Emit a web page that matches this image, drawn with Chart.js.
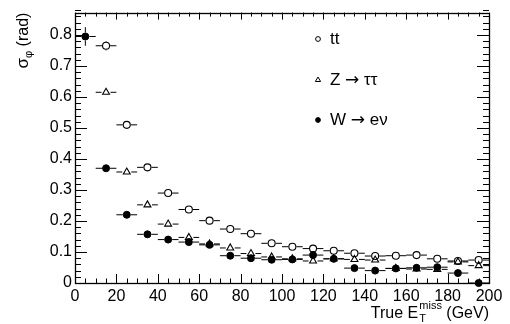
<!DOCTYPE html>
<html>
<head>
<meta charset="utf-8">
<script src="https://cdn.jsdelivr.net/npm/chart.js@4.4.1/dist/chart.umd.min.js"></script>
<style>
  html, body { margin: 0; padding: 0; background: #fff; }
  #wrap { width: 510px; height: 324px; }
</style>
</head>
<body>
<div id="wrap"><canvas id="c" width="510" height="324"></canvas></div>
<script>
/* global Chart */

// --- data (bin centres, GeV) ---
const binCenters = [5, 15, 25, 35, 45, 55, 65, 75, 85, 95, 105, 115, 125, 135, 145, 155, 165, 175, 185, 195];
const binHalfWidth = 5;

const seriesNames = ['tt', 'Z \u2192 \u03c4\u03c4', 'W \u2192 e\u03bd'];

const ttValues = [null, 0.765, 0.510, 0.373, 0.290, 0.237, 0.201, 0.174, 0.159, 0.128, 0.117, 0.111, 0.104, 0.096, 0.087, 0.088, 0.090, 0.078, 0.071, 0.074];
const ttErrors = [null, 0.015, 0.006, 0.004, 0.004, 0.003, 0.003, 0.003, 0.003, 0.003, 0.003, 0.003, 0.003, 0.004, 0.004, 0.004, 0.005, 0.005, 0.005, 0.006];

const zValues = [null, 0.615, 0.358, 0.252, 0.190, 0.147, 0.126, 0.113, 0.095, 0.084, 0.078, 0.071, 0.078, 0.076, 0.074, 0.047, 0.045, 0.044, 0.068, 0.056];
const zErrors = [null, 0.008, 0.005, 0.004, 0.004, 0.004, 0.004, 0.004, 0.004, 0.005, 0.005, 0.006, 0.006, 0.007, 0.007, 0.008, 0.008, 0.008, 0.009, 0.009];

const wValues = [0.795, 0.370, 0.220, 0.157, 0.140, 0.132, 0.123, 0.088, 0.080, 0.075, 0.076, 0.090, 0.078, 0.048, 0.040, 0.047, 0.049, 0.051, 0.032, 0.0];
const wErrors = [0.030, 0.005, 0.004, 0.004, 0.004, 0.004, 0.005, 0.005, 0.005, 0.006, 0.006, 0.010, 0.007, 0.008, 0.008, 0.008, 0.010, 0.010, 0.012, 0.012];

const xTicks = [0, 20, 40, 60, 80, 100, 120, 140, 160, 180, 200];
const yTicks = [0, 0.1, 0.2, 0.3, 0.4, 0.5, 0.6, 0.7, 0.8];
const xMinorStep = 5;
const yMinorStep = 0.02;

const FONT = "'Liberation Sans', Arial, Helvetica, sans-serif";
const ARROW_FONT = "'DejaVu Sans', sans-serif";

function toPoints(values, errors) {
  const pts = [];
  binCenters.forEach((x, i) => {
    if (values[i] !== null) pts.push({ x, y: values[i], err: errors[i] });
  });
  return pts;
}

// text with the arrow drawn in a font that has a long arrow glyph
function fillMixed(ctx, text, x, y, size) {
  text.split(/(\u2192)/).forEach((part) => {
    if (!part) return;
    ctx.font = `${size}px ${part === '\u2192' ? ARROW_FONT : FONT}`;
    ctx.fillText(part, x, y);
    x += ctx.measureText(part).width;
  });
}

// ROOT-like frame, inward ticks, error bars, axis titles and legend
const rootStyle = {
  id: 'rootStyle',
  beforeDatasetsDraw(chart) {
    const { ctx, chartArea: a, scales: { x, y } } = chart;
    ctx.save();
    ctx.strokeStyle = '#000';
    ctx.lineWidth = 1;
    chart.data.datasets.forEach((ds) => {
      const r = ds.pointRadius + 0.5;
      ds.data.forEach((p) => {
        const px = x.getPixelForValue(p.x);
        const py = y.getPixelForValue(p.y);
        const xl = x.getPixelForValue(p.x - binHalfWidth);
        const xr = x.getPixelForValue(p.x + binHalfWidth);
        const yt = y.getPixelForValue(p.y + p.err);
        const yb = Math.min(a.bottom, y.getPixelForValue(p.y - p.err));
        ctx.beginPath();
        ctx.moveTo(xl, py); ctx.lineTo(px - r, py);
        ctx.moveTo(px + r, py); ctx.lineTo(xr, py);
        if (py - yt > r) { ctx.moveTo(px, yt); ctx.lineTo(px, py - r); }
        if (yb - py > r) { ctx.moveTo(px, py + r); ctx.lineTo(px, yb); }
        ctx.stroke();
      });
    });
    ctx.restore();
  },
  afterDraw(chart) {
    const { ctx, chartArea: a, scales: { x, y } } = chart;
    ctx.save();
    ctx.strokeStyle = '#000';
    ctx.lineWidth = 1.3;
    ctx.strokeRect(Math.round(a.left) + 0.5, Math.round(a.top) + 0.5,
                   Math.round(a.right - a.left), Math.round(a.bottom - a.top));

    // x ticks (bottom + top)
    ctx.lineWidth = 1;
    ctx.beginPath();
    for (let v = x.min; v <= x.max + 1e-9; v += xMinorStep) {
      const px = Math.round(x.getPixelForValue(v)) + 0.5;
      const major = xTicks.includes(v);
      ctx.moveTo(px, a.bottom); ctx.lineTo(px, a.bottom - (major ? 9 : 4.5));
      ctx.moveTo(px, a.top); ctx.lineTo(px, a.top + (major ? 7 : 4));
    }
    // y ticks (left + right)
    const nMinor = Math.round((y.max - y.min) / yMinorStep);
    for (let k = 0; k <= nMinor; k++) {
      const v = y.min + k * yMinorStep;
      const py = Math.round(y.getPixelForValue(v)) + 0.5;
      const major = yTicks.some((t) => Math.abs(t - v) < 1e-6);
      const len = major ? 12 : 6;
      ctx.moveTo(a.left, py); ctx.lineTo(a.left + len, py);
      ctx.moveTo(a.right, py); ctx.lineTo(a.right - len, py);
    }
    ctx.stroke();

    ctx.fillStyle = '#000';
    ctx.textBaseline = 'alphabetic';
    ctx.textAlign = 'left';

    // x-axis title: True E_T^miss (GeV), right aligned
    const big = '16px ' + FONT, small = '11px ' + FONT;
    ctx.font = big;
    const t1 = 'True E', t3 = ' (GeV)';
    const w1 = ctx.measureText(t1).width, w3 = ctx.measureText(t3).width;
    ctx.font = small;
    const ws = Math.max(ctx.measureText('T').width, ctx.measureText('miss').width) + 1;
    const sx = a.right - (w1 + ws + w3);
    const base = 318;
    ctx.font = big; ctx.fillText(t1, sx, base);
    ctx.font = small;
    ctx.fillText('miss', sx + w1 + 1, base - 9);
    ctx.fillText('T', sx + w1 + 1, base + 4);
    ctx.font = big; ctx.fillText(t3, sx + w1 + ws, base);

    // y-axis title: sigma_phi (rad), rotated, aligned to top
    ctx.save();
    ctx.translate(28, a.top);
    ctx.rotate(-Math.PI / 2);
    ctx.font = '17px ' + FONT;
    const ya = ctx.measureText('\u03c3').width;
    ctx.font = big;
    const yc = ctx.measureText(' (rad)').width;
    ctx.font = small;
    const yb = ctx.measureText('\u03c6').width;
    const y0 = -(ya + yb + yc);
    ctx.font = '17px ' + FONT; ctx.fillText('\u03c3', y0, 0);
    ctx.font = small; ctx.fillText('\u03c6', y0 + ya, 4);
    ctx.font = big; ctx.fillText(' (rad)', y0 + ya + yb, 0);
    ctx.restore();

    // legend
    const legX = 318, legTextX = 330, legY = [44, 85, 125];
    chart.data.datasets.forEach((ds, i) => {
      ctx.lineWidth = 1;
      ctx.strokeStyle = '#000';
      ctx.fillStyle = ds.pointBackgroundColor;
      Chart.helpers.drawPoint(ctx, {
        pointStyle: ds.pointStyle,
        radius: ds.pointStyle === 'triangle' ? 3 : 2.4,
        rotation: 0,
        borderWidth: 1,
      }, legX, legY[i] - 5);
      ctx.fillStyle = '#000';
      fillMixed(ctx, ds.label, legTextX, legY[i], 17);
    });
    ctx.restore();
  },
};

Chart.defaults.color = '#000';
Chart.defaults.font.family = FONT;

new Chart(document.getElementById('c'), {
  type: 'scatter',
  data: {
    datasets: [
      {
        label: seriesNames[0],
        data: toPoints(ttValues, ttErrors),
        pointStyle: 'circle',
        pointRadius: 3.5,
        pointBackgroundColor: 'rgba(0,0,0,0)',
        pointBorderColor: '#000',
        pointBorderWidth: 1.1,
      },
      {
        label: seriesNames[1],
        data: toPoints(zValues, zErrors),
        pointStyle: 'triangle',
        pointRadius: 4,
        pointBackgroundColor: 'rgba(0,0,0,0)',
        pointBorderColor: '#000',
        pointBorderWidth: 1.1,
      },
      {
        label: seriesNames[2],
        data: toPoints(wValues, wErrors),
        pointStyle: 'circle',
        pointRadius: 3.5,
        pointBackgroundColor: '#000',
        pointBorderColor: '#000',
        pointBorderWidth: 1,
        clip: false,
      },
    ],
  },
  options: {
    responsive: false,
    animation: false,
    events: [],
    layout: { padding: { top: 6, right: 21, left: 0, bottom: 0 } },
    plugins: { legend: { display: false }, tooltip: { enabled: false } },
    scales: {
      x: {
        type: 'linear',
        min: 0,
        max: 200,
        afterFit: (s) => { s.height = 41; },
        afterBuildTicks: (s) => { s.ticks = xTicks.map((v) => ({ value: v })); },
        grid: { display: false, drawTicks: false },
        border: { display: false },
        ticks: { font: { size: 16 }, padding: 4, maxRotation: 0, autoSkip: false },
      },
      y: {
        type: 'linear',
        min: 0,
        max: 0.872,
        afterFit: (s) => { s.width = 75; },
        afterBuildTicks: (s) => { s.ticks = yTicks.map((v) => ({ value: v })); },
        grid: { display: false, drawTicks: false },
        border: { display: false },
        ticks: { font: { size: 16 }, padding: 3, autoSkip: false },
      },
    },
  },
  plugins: [rootStyle],
});
</script>
</body>
</html>
